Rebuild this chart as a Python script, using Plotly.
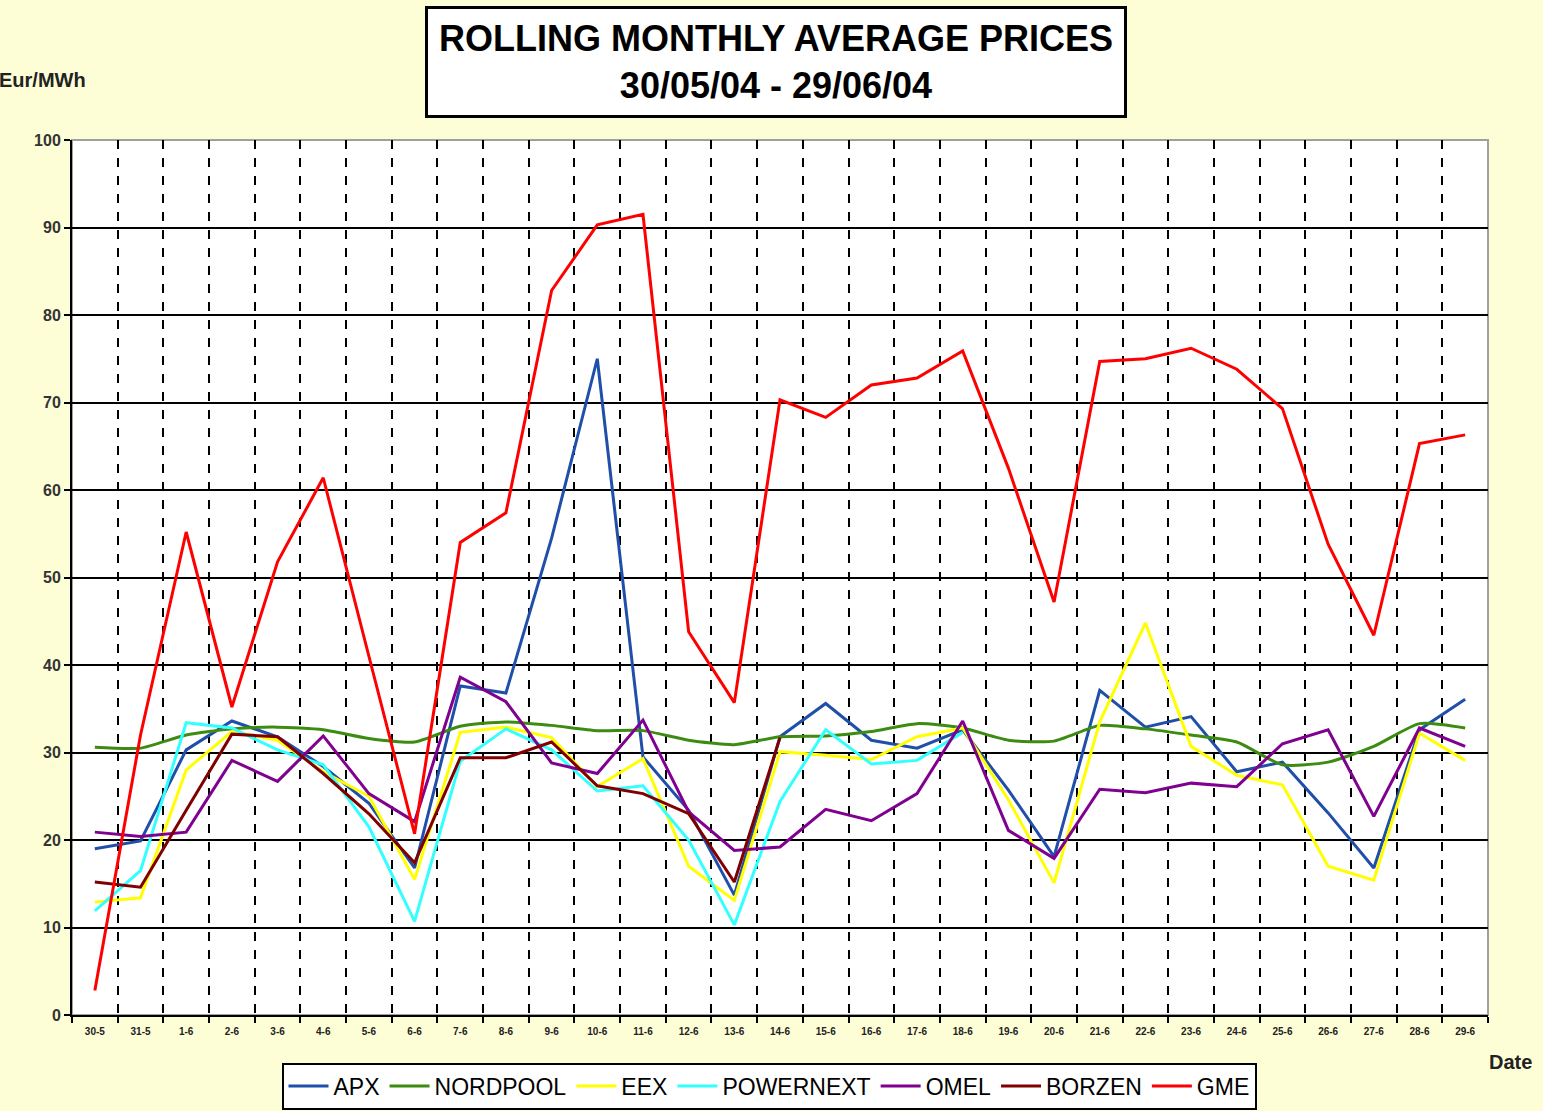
import plotly.graph_objects as go

dates = ["30-5", "31-5", "1-6", "2-6", "3-6", "4-6", "5-6", "6-6", "7-6", "8-6",
         "9-6", "10-6", "11-6", "12-6", "13-6", "14-6", "15-6", "16-6", "17-6", "18-6",
         "19-6", "20-6", "21-6", "22-6", "23-6", "24-6", "25-6", "26-6", "27-6", "28-6", "29-6"]

apx = [19.0, 19.9, 30.3, 33.6, 31.8, 28.4, 24.2, 16.8, 37.6, 36.8,
       54.5, 75.0, 29.5, 23.4, 13.7, 31.8, 35.6, 31.4, 30.5, 32.6,
       25.7, 18.1, 37.1, 32.9, 34.1, 27.8, 28.9, 23.1, 16.8, 32.6, 36.1]

nordpool = [30.6, 30.5, 32.0, 32.7, 32.9, 32.6, 31.6, 31.2, 33.0, 33.5,
            33.1, 32.5, 32.5, 31.4, 30.9, 31.8, 31.9, 32.4, 33.3, 32.8,
            31.4, 31.3, 33.1, 32.7, 32.0, 31.2, 28.6, 28.9, 30.7, 33.3, 32.8]

eex = [12.9, 13.4, 28.0, 32.4, 31.4, 27.8, 25.0, 15.5, 32.3, 32.9,
       31.7, 26.1, 29.3, 17.0, 13.1, 30.1, 29.7, 29.2, 31.8, 32.8,
       24.6, 15.1, 33.5, 44.8, 30.7, 27.4, 26.3, 17.0, 15.4, 32.2, 29.1]

powernext = [11.9, 16.5, 33.4, 32.8, 30.3, 28.6, 21.5, 10.7, 29.0, 32.7,
             30.3, 25.6, 26.2, 20.0, 10.3, 24.4, 32.6, 28.7, 29.1, 32.3,
             None, None, None, None, None, None, None, None, None, None, None]

omel = [20.9, 20.4, 20.9, 29.1, 26.7, 31.9, 25.3, 22.1, 38.6, 35.8,
        28.8, 27.6, 33.7, 23.2, 18.8, 19.2, 23.5, 22.2, 25.3, 33.6,
        21.1, 17.9, 25.8, 25.4, 26.5, 26.1, 31.0, 32.6, 22.7, 32.8, 30.7]

borzen = [15.2, 14.6, 23.4, 32.1, 31.8, 27.6, 23.0, 17.4, 29.4, 29.4,
          31.2, 26.2, 25.3, 23.0, 15.2, 31.7,
          None, None, None, None, None, None, None, None, None, None, None, None, None, None, None]

gme = [2.8, 32.0, 55.2, 35.2, 51.8, 61.4, 41.0, 20.7, 54.0, 57.4,
       82.8, 90.3, 91.5, 43.8, 35.7, 70.3, 68.3, 72.0, 72.8, 75.9,
       62.5, 47.2, 74.7, 75.0, 76.2, 73.8, 69.3, 53.8, 43.4, 65.3, 66.3]

series = [
    ("APX", apx, "#1F4FA8", "linear"),
    ("NORDPOOL", nordpool, "#3C8C12", "spline"),
    ("EEX", eex, "#FFFF00", "linear"),
    ("POWERNEXT", powernext, "#33FFFF", "linear"),
    ("OMEL", omel, "#800090", "linear"),
    ("BORZEN", borzen, "#800000", "linear"),
    ("GME", gme, "#FF0000", "linear"),
]

W, H = 1543, 1111
L, R, T, B = 72, 1488, 140, 1015
PW, PH = R - L, B - T


def px(x):
    return (x - L) / PW


def py(y):
    return (B - y) / PH


fig = go.Figure()
for name, vals, color, shape in series:
    line = dict(color=color, width=3, shape=shape)
    if shape == "spline":
        line["smoothing"] = 0.6
    fig.add_trace(go.Scatter(x=dates, y=vals, name=name, mode="lines",
                             line=line, connectgaps=False))

font = "Liberation Sans, Arial, sans-serif"

fig.update_layout(
    width=W, height=H,
    margin=dict(l=L, r=W - R, t=T, b=H - B, autoexpand=False),
    paper_bgcolor="#FEFED6",
    plot_bgcolor="#FFFFFF",
    font=dict(family=font, color="#000000"),
    showlegend=True,
    legend=dict(orientation="h", x=px(769), xanchor="center", y=py(1086), yanchor="middle",
                bgcolor="#FFFFFF", bordercolor="#000000", borderwidth=2,
                font=dict(size=23, family=font, color="#000000"),
                itemwidth=40, tracegroupgap=0),
    xaxis=dict(type="category", categoryorder="array", categoryarray=dates,
               tickson="boundaries", ticks="outside", ticklen=6, tickcolor="#000000",
               tickwidth=1.5, ticklabelstandoff=6,
               showline=True, linecolor="#000000", linewidth=2,
               showgrid=True, gridcolor="#000000", gridwidth=1.5, griddash="dash",
               tickfont=dict(size=10, family=font, color="#222222", weight="bold"),
               range=[-0.5, len(dates) - 0.5], fixedrange=True),
    yaxis=dict(range=[0, 100], dtick=10, tick0=0, ticks="outside", ticklen=6,
               tickcolor="#000000", tickwidth=1.5,
               showline=True, linecolor="#000000", linewidth=2,
               showgrid=True, gridcolor="#000000", gridwidth=1.5,
               zeroline=False,
               tickfont=dict(size=16, family=font, color="#333333", weight="bold")),
    shapes=[dict(type="rect", xref="paper", yref="paper", x0=0, x1=1, y0=0, y1=1,
                 line=dict(color="#A0A0A0", width=2), layer="below")],
    annotations=[
        dict(text="<b>ROLLING MONTHLY AVERAGE PRICES</b><br><b>30/05/04 - 29/06/04</b>",
             xref="paper", yref="paper", x=px(776), y=py(61.5),
             xanchor="center", yanchor="middle", showarrow=False,
             font=dict(size=36, family=font, color="#000000"),
             bgcolor="#FFFFFF", bordercolor="#000000", borderwidth=3,
             width=694, height=104, align="center"),
        dict(text="<b>Eur/MWh</b>", xref="paper", yref="paper",
             x=px(88), y=py(80), xanchor="right", yanchor="middle", showarrow=False,
             font=dict(size=20, family=font, color="#222222")),
        dict(text="<b>Date</b>", xref="paper", yref="paper",
             x=px(1510), y=py(1062), xanchor="center", yanchor="middle", showarrow=False,
             font=dict(size=20, family=font, color="#222222")),
    ],
)

fig.write_html("out.html", config={"displayModeBar": False},
               post_script="document.body.style.margin='0';document.body.style.background='#FEFED6';")
